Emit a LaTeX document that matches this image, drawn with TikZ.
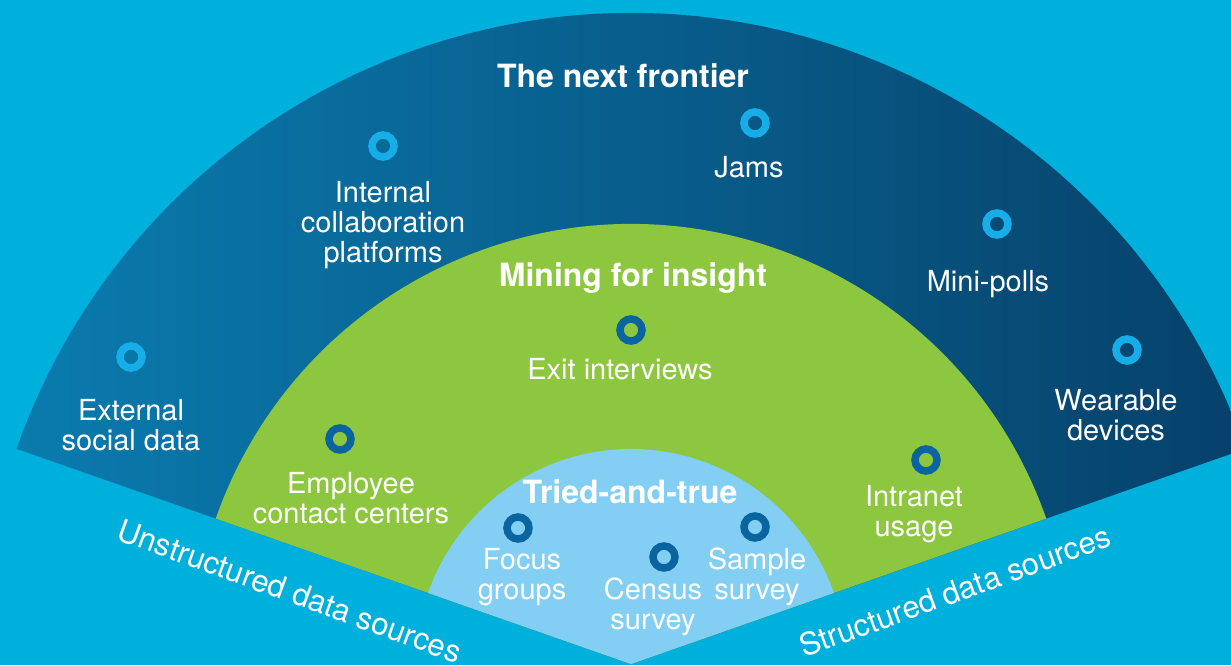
\documentclass[tikz,border=0pt]{standalone}
\usepackage{xcolor}
\usepackage{fontspec}
\setmainfont{TeX Gyre Heros}
\usepackage{tikz}
\usetikzlibrary{positioning}

\definecolor{skyback}{HTML}{00B0DC}
\definecolor{outerleft}{HTML}{0A7BAE}
\definecolor{outerright}{HTML}{06416A}
\definecolor{midgreen}{HTML}{8DC63F}
\definecolor{innerblue}{HTML}{82CFF3}
\definecolor{ringcyan}{HTML}{17ADE8}
\definecolor{ringdark}{HTML}{0A64A0}

\tikzset{ring/.style = {circle,draw=#1,line width=7.5pt,minimum size=22pt,inner sep=0pt}}

\begin{document}
\begin{tikzpicture}[x=1pt,y=1pt,
    lbl/.style={text=white,align=center,inner sep=0pt,font=\fontsize{29}{30}\selectfont},
    side/.style={text=white,inner sep=0pt,font=\fontsize{31}{33}\selectfont},
    head/.style={text=white,align=center,inner sep=0pt,font=\fontsize{32}{34}\selectfont\bfseries}]
  \useasboundingbox (0,0) rectangle (1231,665);
  \clip (0,0) rectangle (1231,665);
  \fill[skyback] (0,0) rectangle (1231,665);

  \coordinate (o) at (631,1);
  % three sectors of the fan
  \shade[left color=outerleft,right color=outerright]
    (o) -- ++(19.3:651) arc[start angle=19.3,end angle=160.7,radius=651] -- cycle;
  \fill[midgreen]
    (o) -- ++(19.3:440) arc[start angle=19.3,end angle=160.7,radius=440] -- cycle;
  \fill[innerblue]
    (o) -- ++(19.3:215) arc[start angle=19.3,end angle=160.7,radius=215] -- cycle;

  % outer band
  \node[head] (t1) at (623,589) {The next frontier};
  \node[ring=ringcyan] (r1) at (383,519) {};
  \node[lbl] (l1) at (383,440) {Internal\\collaboration\\platforms};
  \node[ring=ringcyan] (r2) at (755,542) {};
  \node[lbl] (l2) at (749,498) {Jams};
  \node[ring=ringcyan] (r3) at (997,441) {};
  \node[lbl] (l3) at (988,381) {Mini-polls};
  \node[ring=ringcyan] (r4) at (131,308) {};
  \node[lbl] (l4) at (131,240) {External\\social data};
  \node[ring=ringcyan] (r5) at (1127,315) {};
  \node[lbl] (l5) at (1116,250) {Wearable\\devices};

  % middle band
  \node[head] (t2) at (633,387) {Mining for insight};
  \node[ring=ringdark] (g1) at (631,335) {};
  \node[lbl] (l6) at (620,296) {Exit interviews};
  \node[ring=ringdark] (g2) at (340,226) {};
  \node[lbl] (l7) at (351,167) {Employee\\contact centers};
  \node[ring=ringdark] (g3) at (926,205) {};
  \node[lbl] (l8) at (914,151) {Intranet\\usage};

  % inner band
  \node[head] (t3) at (630,173) {Tried-and-true};
  \node[ring=ringdark] (b1) at (518,137) {};
  \node[lbl] (l9) at (522,88) {Focus\\groups};
  \node[ring=ringdark] (b2) at (664,108) {};
  \node[lbl] (l10) at (653,58) {Census\\survey};
  \node[ring=ringdark] (b3) at (755,138) {};
  \node[lbl] (l11) at (757,88) {Sample\\survey};

  % side captions
  \node[side,rotate=-20] (u1) at (290,74) {Unstructured data sources};
  \node[side,rotate=20] (u2) at (955,74) {Structured data sources};
\end{tikzpicture}
\end{document}
